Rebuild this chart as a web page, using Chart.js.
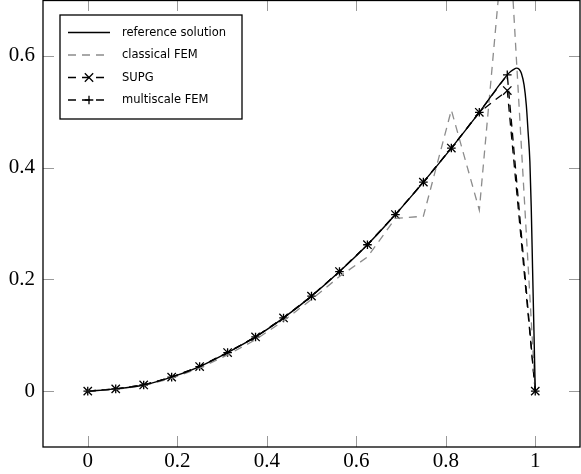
<!DOCTYPE html>
<html>
<head>
<meta charset="utf-8">
<script src="https://cdn.jsdelivr.net/npm/chart.js@4.4.1/dist/chart.umd.min.js"></script>
<style>
  body { margin: 0; background: #fff; }
  canvas { display: block; }
</style>
</head>
<body>
<canvas id="chart" width="581" height="474"></canvas>
<script>
// axis ticks
const xTicks = [0, 0.2, 0.4, 0.6, 0.8, 1];
const yTicks = [0, 0.2, 0.4, 0.6];

// mesh nodes (h = 1/16)
const nodeX = [0, 0.0625, 0.125, 0.1875, 0.25, 0.3125, 0.375, 0.4375, 0.5,
               0.5625, 0.625, 0.6875, 0.75, 0.8125, 0.875, 0.9375, 1];

// reference solution (denser in the boundary layer)
const refX = [0, 0.0625, 0.125, 0.1875, 0.25, 0.3125, 0.375, 0.4375, 0.5,
              0.5625, 0.625, 0.6875, 0.75, 0.8125, 0.875, 0.9375,
              0.945, 0.952, 0.958, 0.964, 0.969, 0.975, 0.98, 0.984, 0.988,
              0.991, 0.994, 0.997, 1];
const refY = [0, 0.004, 0.011, 0.025, 0.044, 0.069, 0.097, 0.131, 0.170,
              0.214, 0.262, 0.316, 0.374, 0.435, 0.499, 0.566,
              0.572, 0.576, 0.578, 0.576, 0.569, 0.548, 0.512, 0.464, 0.411,
              0.33, 0.22, 0.11, 0];

const femY  = [0, 0.003, 0.010, 0.023, 0.041, 0.065, 0.092, 0.126, 0.164,
               0.205, 0.240, 0.309, 0.313, 0.503, 0.324, 0.882, 0];
const supgY = [0, 0.004, 0.011, 0.025, 0.044, 0.069, 0.097, 0.131, 0.170,
               0.214, 0.262, 0.316, 0.374, 0.435, 0.499, 0.538, 0];
const msY   = [0, 0.004, 0.011, 0.025, 0.044, 0.069, 0.097, 0.131, 0.170,
               0.214, 0.262, 0.316, 0.374, 0.435, 0.499, 0.566, 0];

const labels = ['reference solution', 'classical FEM', 'SUPG', 'multiscale FEM'];

function toPoints(xs, ys) {
    return xs.map((x, i) => ({ x: x, y: ys[i] }));
}

const dash = [8, 6];
const tickLen = 11;

const frameAndLegend = {
    id: 'frameAndLegend',
    beforeDatasetsDraw(chart) {
        const { ctx, chartArea: a, scales: { x, y } } = chart;
        ctx.save();
        ctx.strokeStyle = '#9a9a9a';
        ctx.lineWidth = 1;
        ctx.beginPath();
        xTicks.forEach(v => {
            const px = Math.round(x.getPixelForValue(v)) + 0.5;
            ctx.moveTo(px, a.top); ctx.lineTo(px, a.top + tickLen);
            ctx.moveTo(px, a.bottom); ctx.lineTo(px, a.bottom - tickLen);
        });
        yTicks.forEach(v => {
            const py = Math.round(y.getPixelForValue(v)) + 0.5;
            ctx.moveTo(a.left, py); ctx.lineTo(a.left + tickLen, py);
            ctx.moveTo(a.right, py); ctx.lineTo(a.right - tickLen, py);
        });
        ctx.stroke();
        ctx.restore();
    },
    afterDatasetsDraw(chart) {
        const { ctx, chartArea: a } = chart;
        ctx.save();
        ctx.strokeStyle = '#000';
        ctx.lineWidth = 1.3;
        ctx.strokeRect(a.left, a.top + 0.5, a.right - a.left, a.bottom - a.top - 0.5);

        // legend box
        const bx = 60, by = 15, bw = 182, bh = 104;
        ctx.fillStyle = '#fff';
        ctx.fillRect(bx, by, bw, bh);
        ctx.strokeRect(bx, by, bw, bh);

        ctx.font = '11.5px "DejaVu Sans"';
        ctx.textBaseline = 'middle';
        chart.data.datasets.forEach((ds, i) => {
            const ly = 32.5 + i * 22.5;
            ctx.strokeStyle = ds.borderColor;
            ctx.lineWidth = ds.borderWidth;
            ctx.setLineDash(ds.borderDash || []);
            ctx.beginPath();
            ctx.moveTo(68, ly);
            ctx.lineTo(110, ly);
            ctx.stroke();
            ctx.setLineDash([]);
            if (ds.pointRadius > 0) {
                ctx.strokeStyle = ds.pointBorderColor;
                ctx.lineWidth = ds.pointBorderWidth;
                Chart.helpers.drawPoint(ctx, {
                    pointStyle: ds.pointStyle,
                    radius: ds.pointRadius,
                    rotation: 0,
                    borderWidth: ds.pointBorderWidth
                }, 89, ly);
            }
            ctx.fillStyle = '#000';
            ctx.fillText(ds.label, 122, ly + 0.5);
        });
        ctx.restore();
    }
};

const serif = { family: '"Liberation Serif", "DejaVu Serif", serif', size: 21 };

new Chart(document.getElementById('chart'), {
    type: 'line',
    data: {
        datasets: [
            {
                label: labels[0],
                data: toPoints(refX, refY),
                borderColor: '#000',
                borderWidth: 1.4,
                pointRadius: 0,
                cubicInterpolationMode: 'monotone'
            },
            {
                label: labels[1],
                data: toPoints(nodeX, femY),
                borderColor: '#8c8c8c',
                borderWidth: 1.3,
                borderDash: dash,
                pointRadius: 0
            },
            {
                label: labels[2],
                data: toPoints(nodeX, supgY),
                borderColor: '#000',
                borderWidth: 1.3,
                borderDash: dash,
                pointStyle: 'crossRot',
                pointRadius: 5.9,
                pointBorderColor: '#000',
                pointBorderWidth: 1.3,
                pointBackgroundColor: 'rgba(0,0,0,0)'
            },
            {
                label: labels[3],
                data: toPoints(nodeX, msY),
                borderColor: '#000',
                borderWidth: 1.3,
                borderDash: dash,
                pointStyle: 'cross',
                pointRadius: 4.3,
                pointBorderColor: '#000',
                pointBorderWidth: 1.3,
                pointBackgroundColor: 'rgba(0,0,0,0)'
            }
        ]
    },
    options: {
        responsive: false,
        devicePixelRatio: 1,
        animation: false,
        layout: { autoPadding: false, padding: { left: 0, right: 1, top: 0, bottom: 0 } },
        plugins: {
            legend: { display: false },
            tooltip: { enabled: false }
        },
        scales: {
            x: {
                type: 'linear',
                min: -0.1,
                max: 1.1,
                afterBuildTicks: s => { s.ticks = xTicks.map(v => ({ value: v })); },
                afterFit: s => { s.height = 27; s.paddingLeft = 0; s.paddingRight = 0; },
                grid: { display: false, drawTicks: false },
                border: { display: false },
                ticks: {
                    font: serif,
                    color: '#000',
                    padding: 2,
                    maxRotation: 0,
                    autoSkip: false,
                    callback: v => String(v)
                }
            },
            y: {
                type: 'linear',
                min: -0.1,
                max: 0.7,
                afterBuildTicks: s => { s.ticks = yTicks.map(v => ({ value: v })); },
                afterFit: s => { s.width = 43; s.paddingTop = 0; s.paddingBottom = 0; },
                grid: { display: false, drawTicks: false },
                border: { display: false },
                ticks: {
                    font: serif,
                    color: '#000',
                    padding: 8,
                    autoSkip: false,
                    callback: v => String(v)
                }
            }
        }
    },
    plugins: [frameAndLegend]
});
</script>
</body>
</html>
